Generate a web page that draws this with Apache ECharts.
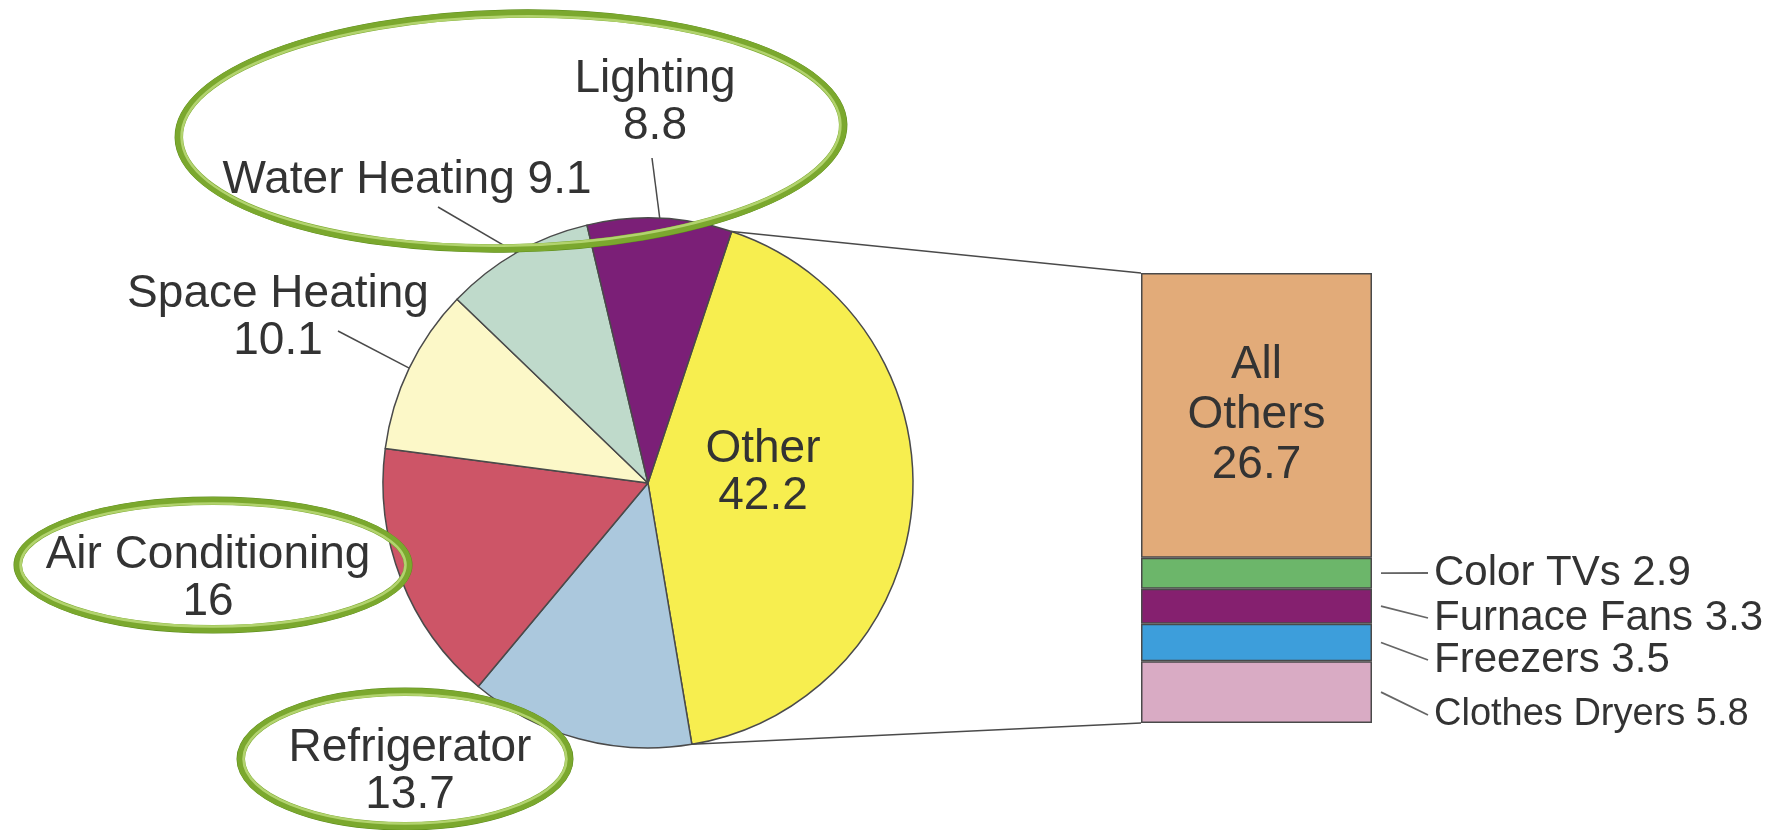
<!DOCTYPE html>
<html>
<head>
<meta charset="utf-8">
<title>Residential electricity end uses</title>
<script src="https://cdn.jsdelivr.net/npm/echarts@6/dist/echarts.min.js"></script>
<style>
  html, body { margin: 0; padding: 0; background: #fff; }
  #main { width: 1785px; height: 830px; }
</style>
</head>
<body>
<div id="main"></div>
<script>
// pie slices, clockwise starting at the top right
const pieNames = ['Other', 'Refrigerator', 'Air Conditioning', 'Space Heating', 'Water Heating', 'Lighting'];
const pieValues = [42.2, 13.7, 16, 10.1, 9.1, 8.8];
const pieColors = ['#f7ee4f', '#abc8dd', '#cd5567', '#fcf8c8', '#bfdacb', '#7b1f77'];

// breakdown of "Other", stacked bottom to top
const barNames = ['Clothes Dryers', 'Freezers', 'Furnace Fans', 'Color TVs', 'All Others'];
const barValues = [5.8, 3.5, 3.3, 2.9, 26.7];
const barColors = ['#d9abc4', '#3d9edb', '#85206f', '#6cb66a', '#e2ab79'];

const font = 'Liberation Sans, Arial, sans-serif';
const ink = '#333';
const edge = '#4a4a4a';

const pieCenter = [648, 483];
const pieRadius = 265;
const pieStart = 71.6; // echarts degrees, first slice starts here
const grid = {left: 1141, top: 273, width: 231, height: 450};

// label spots for the pie, "from" = where the leader line leaves the label
const pieLabelSpots = {
  'Other': {x: 763, y: 473},
  'Refrigerator': {x: 410, y: 772},
  'Air Conditioning': {x: 208, y: 579},
  'Space Heating': {x: 278, y: 318, from: [338, 331]},
  'Water Heating': {x: 407, y: 180, from: [438, 207]},
  'Lighting': {x: 655, y: 103, from: [652, 158]}
};
const oneLineLabels = ['Water Heating'];

const barLabelSpots = {
  'Color TVs': {x: 1434, y: 573, size: 42},
  'Furnace Fans': {x: 1434, y: 618, size: 42},
  'Freezers': {x: 1434, y: 660, size: 42},
  'Clothes Dryers': {x: 1434, y: 715, size: 38}
};

// green hand-drawn style rings
const rings = [
  {cx: 511, cy: 131, rx: 332, ry: 117, rot: 0.02},
  {cx: 213, cy: 565, rx: 195, ry: 64, rot: 0},
  {cx: 405, cy: 759, rx: 164, ry: 67, rot: 0}
];

const chart = echarts.init(document.getElementById('main'));

const pieData = pieNames.map((n, i) => ({
  name: n,
  value: pieValues[i],
  itemStyle: {color: pieColors[i]},
  label: n === 'Other' ? {position: 'inside'} : {},
  labelLine: {show: !!pieLabelSpots[n].from}
}));

const barTotal = barValues.reduce((a, b) => a + b, 0);

const barSeries = barNames.map((n, i) => {
  const spot = barLabelSpots[n];
  const s = {
    type: 'bar',
    name: n,
    stack: 'other',
    barWidth: '100%',
    data: [barValues[i]],
    itemStyle: {color: barColors[i], borderColor: edge, borderWidth: 1.5},
    label: {show: true, color: ink, fontFamily: font}
  };
  if (spot) {
    s.label.formatter = '{a} {c}';
    s.label.position = 'right';
    s.label.fontSize = spot.size;
    s.labelLayout = {x: spot.x, y: spot.y, align: 'left', verticalAlign: 'middle'};
  } else {
    s.label.position = 'inside';
    s.label.fontSize = 46;
    s.label.lineHeight = 50;
    s.label.formatter = p => p.seriesName.replace(' ', '\n') + '\n' + p.value;
  }
  return s;
});

const ringGraphics = [];
rings.forEach(r => {
  const parts = [
    {d: 3.5, w: 2, c: '#5a8a1a'},
    {d: 0, w: 8, c: '#7ba82e'},
    {d: -2.5, w: 2.5, c: '#b2d36e'}
  ];
  parts.forEach(p => {
    ringGraphics.push({
      type: 'ellipse',
      x: r.cx, y: r.cy, rotation: r.rot,
      shape: {cx: 0, cy: 0, rx: r.rx + p.d, ry: r.ry + p.d},
      style: {fill: 'none', stroke: p.c, lineWidth: p.w},
      z: 100, silent: true
    });
  });
});

chart.setOption({
  backgroundColor: '#fff',
  animation: false,
  grid: grid,
  xAxis: {type: 'category', data: ['Other'], show: false},
  yAxis: {type: 'value', min: 0, max: barTotal, show: false},
  series: [{
    type: 'pie',
    center: pieCenter,
    radius: pieRadius,
    startAngle: pieStart,
    clockwise: true,
    avoidLabelOverlap: false,
    itemStyle: {borderColor: edge, borderWidth: 1.5},
    label: {
      show: true, position: 'outside', color: ink, fontFamily: font,
      fontSize: 46, lineHeight: 47,
      formatter: p => oneLineLabels.includes(p.name) ? p.name + ' ' + p.value : p.name + '\n' + p.value
    },
    labelLine: {length: 10, length2: 0, lineStyle: {color: edge, width: 1.5}},
    labelLayout: function (p) {
      const s = pieLabelSpots[pieNames[p.dataIndex]];
      const out = {x: s.x, y: s.y, align: 'center', verticalAlign: 'middle'};
      if (s.from && p.labelLinePoints) out.labelLinePoints = [s.from, p.labelLinePoints[0]];
      return out;
    },
    data: pieData
  }].concat(barSeries),
  graphic: ringGraphics
});

// connector lines from the "Other" slice to the bar
const pieTotal = pieValues.reduce((a, b) => a + b, 0);
const a0 = pieStart * Math.PI / 180;
const a1 = a0 - pieValues[0] / pieTotal * 2 * Math.PI;
const arcPt = a => [pieCenter[0] + pieRadius * Math.cos(a), pieCenter[1] - pieRadius * Math.sin(a)];
const topY = chart.convertToPixel({yAxisIndex: 0}, barTotal);
const botY = chart.convertToPixel({yAxisIndex: 0}, 0);
const p0 = arcPt(a0), p1 = arcPt(a1);

const lines = [
  {type: 'line', shape: {x1: p0[0], y1: p0[1], x2: grid.left, y2: topY}, style: {stroke: edge, lineWidth: 1.5}, z: 5},
  {type: 'line', shape: {x1: p1[0], y1: p1[1], x2: grid.left, y2: botY}, style: {stroke: edge, lineWidth: 1.5}, z: 5}
];

// leader lines from each thin bar segment to its label
let cum = 0;
barNames.forEach((n, i) => {
  const spot = barLabelSpots[n];
  const mid = chart.convertToPixel({yAxisIndex: 0}, cum + barValues[i] / 2);
  cum += barValues[i];
  if (!spot) return;
  lines.push({
    type: 'line',
    shape: {x1: grid.left + grid.width + 9, y1: mid, x2: spot.x - 6, y2: spot.y},
    style: {stroke: '#666', lineWidth: 1.8}, z: 5
  });
});

chart.setOption({graphic: ringGraphics.concat(lines)});
</script>
</body>
</html>
